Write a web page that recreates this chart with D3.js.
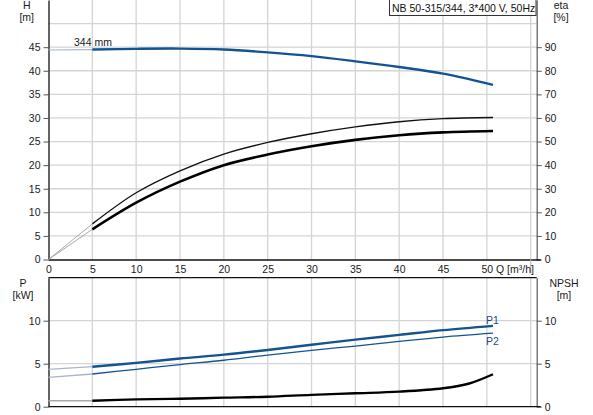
<!DOCTYPE html>
<html>
<head>
<meta charset="utf-8">
<script src="https://cdn.jsdelivr.net/npm/d3@7"></script>
<style>
  body { margin: 0; background: #fff; }
  svg { display: block; font-family: "Liberation Sans", Arial, sans-serif; font-size: 10.5px; }
  .grid line { stroke: #d4d4d4; stroke-width: 1.3; }
  .tick text { fill: #1a1a1a; }
</style>
</head>
<body>
<div id="vis"></div>
<script>
// Pump curve data
const qFlow = [5, 10, 15, 20, 25, 30, 35, 40, 45, 50.7]
const headH = [44.5, 44.65, 44.7, 44.5, 43.9, 43.1, 42.0, 40.8, 39.4, 37.0]
const headAtZero = 44.4
const etaPump = [15.1, 28.3, 37.6, 44.7, 49.6, 53.3, 56.2, 58.4, 59.7, 60.2]
const etaTotal = [12.8, 24.1, 33.0, 40.0, 44.5, 48.0, 50.7, 52.7, 53.9, 54.5]
const powerP1 = [4.65, 5.1, 5.6, 6.05, 6.6, 7.2, 7.8, 8.35, 8.9, 9.4]
const powerP1AtZero = 4.35
const powerP2 = [3.8, 4.35, 4.9, 5.4, 6.0, 6.55, 7.05, 7.6, 8.1, 8.55]
const powerP2AtZero = 3.4
const npshQ = [5, 10, 15, 20, 25, 30, 35, 40, 45, 48, 50.7]
const npshR = [0.7, 0.85, 0.93, 1.05, 1.16, 1.38, 1.56, 1.75, 2.14, 2.7, 3.77]
const npshAtZero = 0.7

const qTicks = [0, 5, 10, 15, 20, 25, 30, 35, 40, 45, 50]
const hTicks = [0, 5, 10, 15, 20, 25, 30, 35, 40, 45]
const etaTicks = [0, 10, 20, 30, 40, 50, 60, 70, 80, 90]
const pTicks = [0, 5, 10]

const W = 593, H = 415
const left = 48.5, right = 536.7
const topY0 = 259.5, topY1 = 0
const botY0 = 406.7, botY1 = 277.7

const blue = '#135392'
const paleBlue = '#a9b6c8'
const paleGrey = '#a8a8a8'

let svg = d3.select('#vis').append('svg')
    .attr('width', W)
    .attr('height', H)

let x = d3.scaleLinear([0, 55], [left, 530.7])
let yH = d3.scaleLinear([0, 55], [topY0, topY1])
let yEta = d3.scaleLinear([0, 110], [topY0, topY1])
let yP = d3.scaleLinear([0, 15], [botY0, botY1])

// Grid lines
let gridTop = svg.append('g').attr('class', 'grid')
gridTop.selectAll('.vx').data(d3.range(5, 56, 5)).enter().append('line')
    .attr('x1', d => x(d)).attr('x2', d => x(d))
    .attr('y1', topY1).attr('y2', topY0)
gridTop.selectAll('.hy').data(d3.range(5, 51, 5)).enter().append('line')
    .attr('x1', left).attr('x2', right)
    .attr('y1', d => yH(d)).attr('y2', d => yH(d))

let gridBot = svg.append('g').attr('class', 'grid')
gridBot.selectAll('.vx').data(d3.range(5, 56, 5)).enter().append('line')
    .attr('x1', d => x(d)).attr('x2', d => x(d))
    .attr('y1', botY1).attr('y2', botY0)
gridBot.selectAll('.hy').data([5, 10]).enter().append('line')
    .attr('x1', left).attr('x2', right)
    .attr('y1', d => yP(d)).attr('y2', d => yP(d))

// Axes
function styleAxis(g, domainColor){
    g.select('.domain').attr('stroke', domainColor).attr('stroke-width', 1.3)
    g.selectAll('.tick line').attr('stroke', '#555')
    g.selectAll('.tick text').attr('font-size', 10.5).attr('font-family', '"Liberation Sans", Arial, sans-serif')
}

svg.append('g')
    .attr('transform', `translate(${left},0)`)
    .call(d3.axisLeft(yH).tickValues(hTicks).tickSize(5).tickSizeOuter(0).tickPadding(3))
    .call(g => styleAxis(g, '#111'))

svg.append('g')
    .attr('transform', `translate(${right},0)`)
    .call(d3.axisRight(yEta).tickValues(etaTicks).tickSize(5).tickSizeOuter(0).tickPadding(3))
    .call(g => styleAxis(g, '#666'))

svg.append('g')
    .attr('transform', `translate(0,${topY0})`)
    .call(d3.axisBottom(x).tickValues(qTicks).tickSize(0).tickSizeOuter(0).tickPadding(6))
    .call(g => styleAxis(g, '#111'))
    .call(g => g.select('.domain').attr('d', `M${left},0.5H${right + 4}`))

// long tick before the Q unit
svg.append('line')
    .attr('x1', x(55)).attr('x2', x(55))
    .attr('y1', topY0).attr('y2', topY0 + 14)
    .attr('stroke', '#bbb').attr('stroke-width', 1.2)

svg.append('text')
    .attr('x', 496).attr('y', 273)
    .attr('text-anchor', 'start')
    .attr('fill', '#1a1a1a')
    .text('Q [m³/h]')

svg.append('g')
    .attr('transform', `translate(${left},0)`)
    .call(d3.axisLeft(yP).tickValues(pTicks).tickSize(5).tickSizeOuter(0).tickPadding(3))
    .call(g => styleAxis(g, '#111'))

svg.append('g')
    .attr('transform', `translate(${right},0)`)
    .call(d3.axisRight(yP).tickValues(pTicks).tickSize(5).tickSizeOuter(0).tickPadding(3))
    .call(g => styleAxis(g, '#666'))

// bottom chart frame (top border and bottom axis)
svg.append('line')
    .attr('x1', left).attr('x2', right)
    .attr('y1', botY1).attr('y2', botY1)
    .attr('stroke', '#111').attr('stroke-width', 1.3)
svg.append('line')
    .attr('x1', left).attr('x2', right + 4)
    .attr('y1', botY0).attr('y2', botY0)
    .attr('stroke', '#111').attr('stroke-width', 1.3)

// Curves
let lineH = d3.line().x(d => x(d[0])).y(d => yH(d[1])).curve(d3.curveCatmullRom)
let lineEta = d3.line().x(d => x(d[0])).y(d => yEta(d[1])).curve(d3.curveCatmullRom)
let lineP = d3.line().x(d => x(d[0])).y(d => yP(d[1])).curve(d3.curveCatmullRom)

function drawCurve(gen, pts, color, width){
    svg.append('path')
        .attr('d', gen(pts))
        .attr('fill', 'none')
        .attr('stroke', color)
        .attr('stroke-width', width)
        .attr('stroke-linejoin', 'round')
}

// QH curve
drawCurve(lineH, [[0, headAtZero], [qFlow[0], headH[0]]], paleBlue, 1.2)
drawCurve(lineH, qFlow.map((q, i) => [q, headH[i]]), blue, 2.4)

// efficiency curves
drawCurve(lineEta, [[0, 0], [qFlow[0], etaPump[0]]], paleGrey, 1)
drawCurve(lineEta, [[0, 0], [qFlow[0], etaTotal[0]]], paleGrey, 1)
drawCurve(lineEta, qFlow.map((q, i) => [q, etaPump[i]]), '#111', 1.3)
drawCurve(lineEta, qFlow.map((q, i) => [q, etaTotal[i]]), '#000', 2.6)

// power curves
drawCurve(lineP, [[0, powerP1AtZero], [qFlow[0], powerP1[0]]], paleBlue, 1.3)
drawCurve(lineP, qFlow.map((q, i) => [q, powerP1[i]]), blue, 2.4)
drawCurve(lineP, [[0, powerP2AtZero], [qFlow[0], powerP2[0]]], paleBlue, 1.3)
drawCurve(lineP, qFlow.map((q, i) => [q, powerP2[i]]), blue, 1.3)

// NPSH curve
drawCurve(lineP, [[0, npshAtZero], [npshQ[0], npshR[0]]], paleGrey, 1.6)
drawCurve(lineP, npshQ.map((q, i) => [q, npshR[i]]), '#000', 2.4)

// Labels
function label(txt, xx, yy, anchor, color){
    svg.append('text')
        .attr('x', xx).attr('y', yy)
        .attr('text-anchor', anchor || 'middle')
        .attr('fill', color || '#1a1a1a')
        .text(txt)
}

label('H', 26.7, 9)
label('[m]', 26.7, 21)
label('eta', 561, 9)
label('[%]', 561, 21)
label('P', 23, 287)
label('[kW]', 23, 299)
label('NPSH', 564, 287)
label('[m]', 564, 299)
label('344 mm', 74, 45.5, 'start')
label('P1', 492.3, 324, 'middle', '#1f4c7c')
label('P2', 492.3, 345, 'middle', '#1f4c7c')

// Title box
svg.append('rect')
    .attr('x', 389.5).attr('y', -1)
    .attr('width', 146.5).attr('height', 16.5)
    .attr('fill', '#fff')
    .attr('stroke', '#333')
    .attr('stroke-width', 1)
label('NB 50-315/344, 3*400 V, 50Hz', 392, 12, 'start', '#111')
</script>
</body>
</html>
